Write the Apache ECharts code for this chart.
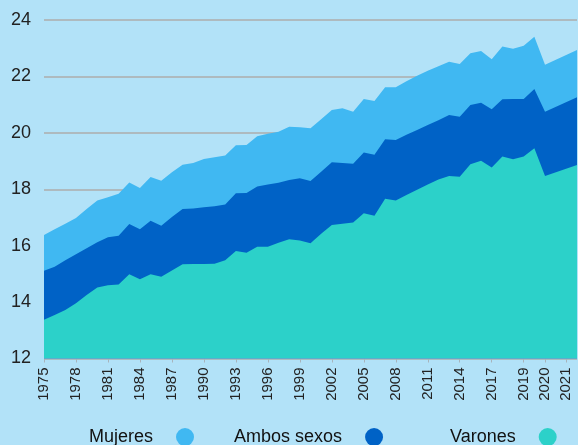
<!DOCTYPE html>
<html><head><meta charset="utf-8">
<script src="https://cdn.jsdelivr.net/npm/echarts@6/dist/echarts.min.js"></script>
<style>html,body{margin:0;padding:0;background:#b2e2f8;}#c{width:578px;height:445px;}</style>
</head><body><div id="c"></div>
<script>
// Category slots along the x axis (the source chart has a few extra slots after 2017)
const categories = [
  '1975','1976','1977','1978','1979','1980','1981','1982','1983','1984',
  '1985','1986','1987','1988','1989','1990','1991','1992','1993','1994',
  '1995','1996','1997','1998','1999','2000','2001','2002','2003','2004',
  '2005','2006','2007','2008','2009','2010','2011','2012','2013','2014',
  '2015','2016','2017','2018','2018-II','2019','2019-II','2020','2020-II','2021','2021-II'
];
// Tick labels that are shown
const shownLabels = ['1975','1978','1981','1984','1987','1990','1993','1996','1999','2002',
  '2005','2008','2011','2014','2017','2019','2020','2021'];

const mujeres = [
  16.38,16.58,16.78,16.98,17.30,17.60,17.72,17.84,18.24,18.04,
  18.43,18.30,18.60,18.87,18.93,19.07,19.13,19.20,19.56,19.57,
  19.88,19.97,20.04,20.22,20.20,20.16,20.48,20.81,20.87,20.75,
  21.20,21.13,21.62,21.62,21.83,22.02,22.20,22.36,22.52,22.44,
  22.82,22.90,22.61,23.06,22.98,23.09,23.41,22.41,null,null,22.94
];
const ambos = [
  15.11,15.25,15.48,15.70,15.91,16.12,16.30,16.35,16.77,16.58,
  16.88,16.71,17.02,17.30,17.32,17.36,17.40,17.46,17.86,17.87,
  18.10,18.17,18.23,18.33,18.39,18.29,18.62,18.96,18.93,18.90,
  19.30,19.22,19.77,19.75,19.93,20.10,20.28,20.45,20.63,20.57,
  20.99,21.07,20.84,21.19,21.20,21.20,21.55,20.75,null,null,21.26
];
const varones = [
  13.37,13.54,13.72,13.96,14.25,14.52,14.60,14.62,14.99,14.81,
  14.99,14.90,15.12,15.34,15.35,15.35,15.36,15.48,15.81,15.75,
  15.96,15.96,16.10,16.23,16.18,16.09,16.42,16.73,16.78,16.82,
  17.15,17.06,17.66,17.60,17.80,17.98,18.17,18.35,18.47,18.44,
  18.89,19.01,18.77,19.16,19.06,19.16,19.45,18.47,null,null,18.86
];
const yTicks = {min: 12, max: 24, step: 2};

const colors = {mujeres:'#40b8f2', ambos:'#0062c6', varones:'#2cd1c9'};
const slotLabel = (v) => {
  const i = categories.indexOf(v);
  if (i === 45) return '2019';
  if (i === 47) return '2020';
  if (i === 49) return '2021';
  return v;
};
const showIdx = (idx) => {
  const c = categories[idx];
  if (idx > 42) return idx === 45 || idx === 47 || idx === 49;
  return shownLabels.indexOf(c) >= 0;
};

function areaSeries(name, data, color) {
  return {
    name, type:'line', data, symbol:'none', connectNulls:true, silent:true,
    lineStyle:{width:0, color}, itemStyle:{color},
    areaStyle:{color, opacity:1, origin:'start'},
    emphasis:{disabled:true}
  };
}
const legendBase = {
  icon:'circle', align:'right', itemWidth:54, itemHeight:18, top:428, padding:0,
  textStyle:{fontSize:18, color:'#111', fontFamily:'Liberation Sans, Arial, sans-serif'},
  selectedMode:false
};

const chart = echarts.init(document.getElementById('c'), null, {renderer:'canvas'});
chart.setOption({
  animation:false,
  backgroundColor:'#b2e2f8',
  grid:{left:44, right:1, top:20, bottom:86.5},
  xAxis:{
    type:'category', boundaryGap:false, data:categories,
    axisLine:{show:false},
    axisTick:{show:true, interval:(i)=>showIdx(i), length:4, lineStyle:{color:'#a8b4bc'}},
    axisLabel:{interval:(i)=>showIdx(i), rotate:90, fontSize:15, color:'#222', margin:9,
      fontFamily:'Liberation Sans, Arial, sans-serif', formatter:slotLabel},
    splitLine:{show:false}
  },
  yAxis:{
    type:'value', min:yTicks.min, max:yTicks.max, interval:yTicks.step,
    axisLine:{show:false}, axisTick:{show:false},
    axisLabel:{fontSize:18, color:'#222', margin:13, fontFamily:'Liberation Sans, Arial, sans-serif'},
    splitLine:{lineStyle:{color:'#adadad', width:1.5}}
  },
  legend:[
    Object.assign({data:['Mujeres'], left:89}, legendBase),
    Object.assign({data:['Ambos sexos'], left:234}, legendBase),
    Object.assign({data:['Varones'], left:450}, legendBase)
  ],
  series:[
    areaSeries('Mujeres', mujeres, colors.mujeres),
    areaSeries('Ambos sexos', ambos, colors.ambos),
    areaSeries('Varones', varones, colors.varones)
  ]
});
</script>
</body></html>
